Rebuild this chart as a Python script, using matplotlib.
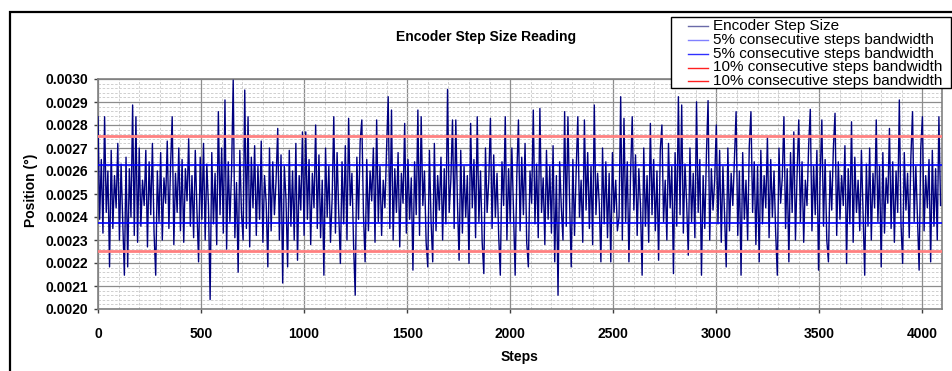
import numpy as np
import matplotlib
matplotlib.use("Agg")
import matplotlib.pyplot as plt
from matplotlib.lines import Line2D
from matplotlib.patches import Rectangle
from matplotlib.ticker import MultipleLocator, FormatStrFormatter

# ------------------------
# Data (step size readings, in 1e-6 deg, one value per 8 steps)
# ------------------------
step_size_udeg = [
    2836, 2390, 2650, 2330, 2836, 2420, 2600, 2183, 2690, 2350, 2580, 2440, 2720, 2300, 2630, 2380,
    2147, 2660, 2183, 2610, 2400, 2887, 2320, 2836, 2290, 2700, 2360, 2560, 2450, 2690, 2270, 2640,
    2410, 2720, 2330, 2147, 2600, 2380, 2680, 2300, 2570, 2460, 2730, 2350, 2620, 2836, 2280, 2590,
    2420, 2700, 2340, 2650, 2290, 2610, 2470, 2740, 2360, 2580, 2310, 2690, 2430, 2205, 2660, 2390,
    2720, 2300, 2630, 2450, 2041, 2680, 2370, 2590, 2280, 2858, 2410, 2700, 2330, 2909, 2260, 2640,
    2380, 2600, 2995, 2310, 2550, 2160, 2690, 2420, 2300, 2952, 2350, 2836, 2270, 2660, 2440, 2710,
    2320, 2620, 2390, 2730, 2290, 2580, 2460, 2183, 2700, 2340, 2640, 2410, 2560, 2785, 2300, 2670,
    2113, 2620, 2480, 2183, 2690, 2360, 2600, 2300, 2720, 2212, 2580, 2430, 2770, 2320, 2770, 2390,
    2650, 2280, 2590, 2440, 2800, 2350, 2670, 2310, 2560, 2147, 2700, 2400, 2620, 2290, 2480, 2836,
    2330, 2680, 2420, 2198, 2640, 2370, 2710, 2300, 2829, 2450, 2590, 2280, 2060, 2660, 2390, 2730,
    2822, 2410, 2205, 2650, 2340, 2600, 2470, 2700, 2290, 2822, 2380, 2620, 2320, 2560, 2440, 2690,
    2923, 2350, 2865, 2300, 2610, 2420, 2680, 2270, 2590, 2460, 2807, 2330, 2650, 2390, 2570, 2169,
    2640, 2410, 2865, 2320, 2836, 2450, 2600, 2290, 2183, 2690, 2380, 2205, 2720, 2340, 2580, 2430,
    2660, 2300, 2610, 2370, 2955, 2420, 2560, 2822, 2350, 2822, 2460, 2212, 2690, 2330, 2620, 2400,
    2580, 2198, 2807, 2440, 2650, 2310, 2836, 2380, 2600, 2290, 2154, 2700, 2420, 2560, 2829, 2350,
    2670, 2400, 2590, 2320, 2147, 2640, 2450, 2836, 2300, 2610, 2380, 2700, 2430, 2147, 2580, 2822,
    2340, 2660, 2410, 2720, 2290, 2183, 2600, 2460, 2865, 2370, 2630, 2310, 2872, 2420, 2570, 2280,
    2690, 2390, 2620, 2330, 2710, 2205, 2580, 2060, 2640, 2440, 2300, 2858, 2360, 2836, 2470, 2183,
    2650, 2320, 2600, 2836, 2400, 2560, 2290, 2822, 2430, 2680, 2350, 2620, 2280, 2887, 2410, 2590,
    2460, 2205, 2700, 2370, 2640, 2310, 2590, 2205, 2680, 2420, 2560, 2340, 2400, 2923, 2300, 2829,
    2380, 2640, 2205, 2590, 2836, 2430, 2670, 2320, 2610, 2450, 2147, 2700, 2360, 2580, 2290, 2807,
    2410, 2650, 2340, 2600, 2212, 2690, 2800, 2380, 2560, 2300, 2720, 2440, 2620, 2154, 2680, 2360,
    2923, 2410, 2887, 2330, 2630, 2460, 2234, 2700, 2380, 2590, 2310, 2901, 2420, 2650, 2147, 2580,
    2350, 2670, 2906, 2300, 2610, 2430, 2560, 2800, 2370, 2690, 2290, 2620, 2410, 2183, 2700, 2340,
    2590, 2450, 2660, 2858, 2320, 2600, 2147, 2680, 2390, 2560, 2300, 2710, 2858, 2420, 2640, 2280,
    2620, 2205, 2690, 2370, 2580, 2440, 2749, 2310, 2650, 2400, 2600, 2330, 2147, 2700, 2460, 2570,
    2836, 2350, 2610, 2205, 2680, 2420, 2770, 2300, 2590, 2822, 2380, 2640, 2290, 2560, 2450, 2710,
    2868, 2340, 2620, 2410, 2690, 2169, 2580, 2822, 2360, 2650, 2300, 2205, 2600, 2430, 2700, 2851,
    2320, 2640, 2390, 2580, 2450, 2710, 2198, 2610, 2370, 2814, 2290, 2660, 2420, 2560, 2340, 2690,
    2410, 2147, 2630, 2360, 2700, 2300, 2590, 2440, 2822, 2380, 2620, 2183, 2680, 2330, 2570, 2460,
    2785, 2350, 2640, 2290, 2600, 2420, 2909, 2370, 2198, 2680, 2430, 2590, 2310, 2660, 2858, 2380,
    2620, 2400, 2169, 2700, 2836, 2340, 2580, 2440, 2650, 2205, 2690, 2360, 2610, 2300, 2836, 2450,
]
STEP_EVERY = 8
steps = np.arange(len(step_size_udeg)) * STEP_EVERY
step_size = np.array(step_size_udeg) * 1e-6

nominal = 0.0025
band_5 = [nominal * 1.05, nominal * 0.95]
band_10 = [nominal * 1.10, nominal * 0.90]

legend_labels = [
    "Encoder Step Size",
    "5% consecutive steps bandwidth",
    "5% consecutive steps bandwidth",
    "10% consecutive steps bandwidth",
    "10% consecutive steps bandwidth",
]
legend_colors = ["#6a6aa8", "#8080ff", "#3030ff", "#ff2020", "#ff2020"]

# ------------------------
# Plot
# ------------------------
W, H = 952, 371
fig = plt.figure(figsize=(W / 100, H / 100), dpi=100)
ax = fig.add_axes([98 / W, 1 - 309 / H, (942 - 98) / W, (309 - 79) / H])

FONT = "Liberation Sans"

ax.plot(steps, step_size, color="#000080", lw=1.0, zorder=3)
for v in band_10:
    ax.axhline(v, color="#ff8080", lw=2.0, zorder=4)
for v in band_5:
    ax.axhline(v, color="#0000ff", lw=1.2, zorder=4)

ax.set_xlim(0, 4095)
ax.set_ylim(0.0020, 0.0030)
ax.xaxis.set_major_locator(MultipleLocator(500))
ax.xaxis.set_minor_locator(MultipleLocator(100))
ax.yaxis.set_major_locator(MultipleLocator(0.0001))
ax.yaxis.set_minor_locator(MultipleLocator(0.00002))
ax.yaxis.set_major_formatter(FormatStrFormatter("%.4f"))

ax.grid(which="major", color="#8c8c8c", lw=0.9, zorder=1)
ax.grid(which="minor", color="#c8c8c8", lw=0.6, ls=(0, (3, 2)), zorder=0)
ax.set_axisbelow(True)

for s in ax.spines.values():
    s.set_color("#808080")
    s.set_linewidth(1.2)
ax.tick_params(which="major", direction="out", length=3, width=1, color="#404040")
ax.tick_params(which="minor", length=0)
ax.tick_params(axis="x", pad=10)
ax.tick_params(axis="y", pad=4)
for lab in ax.get_xticklabels() + ax.get_yticklabels():
    lab.set_fontfamily(FONT)
    lab.set_fontweight("bold")
    lab.set_fontsize(10)

fig.text(486 / W, 1 - 37 / H, "Encoder Step Size Reading", ha="center", va="center",
         fontfamily=FONT, fontweight="bold", fontsize=10)
fig.text(520 / W, 1 - 357 / H, "Steps", ha="center", va="center",
         fontfamily=FONT, fontweight="bold", fontsize=10)
fig.text(31 / W, 1 - 190 / H, "Position (°)", ha="center", va="center", rotation=90,
         fontfamily=FONT, fontweight="bold", fontsize=10)

# outer chart border
fig.patches.append(Rectangle((10 / W, -0.1), 1.2, 1.1 - 12 / H, transform=fig.transFigure,
                             fill=False, edgecolor="black", lw=1.6, clip_on=False))

# legend box drawn by hand (Excel-style, overlapping the plot top)
fig.patches.append(Rectangle((671 / W, 1 - 88 / H), (951 - 671) / W, (88 - 17) / H,
                             transform=fig.transFigure, facecolor="white",
                             edgecolor="black", lw=1.0, zorder=10))
row_y = [26, 40, 54, 67.5, 81]
for y, lab, c in zip(row_y, legend_labels, legend_colors):
    fig.lines.append(Line2D([688 / W, 708 / W], [1 - y / H, 1 - y / H], transform=fig.transFigure,
                            color=c, lw=1.0, zorder=11))
    fig.text(713 / W, 1 - y / H, lab, ha="left", va="center", fontfamily=FONT,
             fontsize=11, zorder=11)

plt.savefig("out.png", dpi=100)
